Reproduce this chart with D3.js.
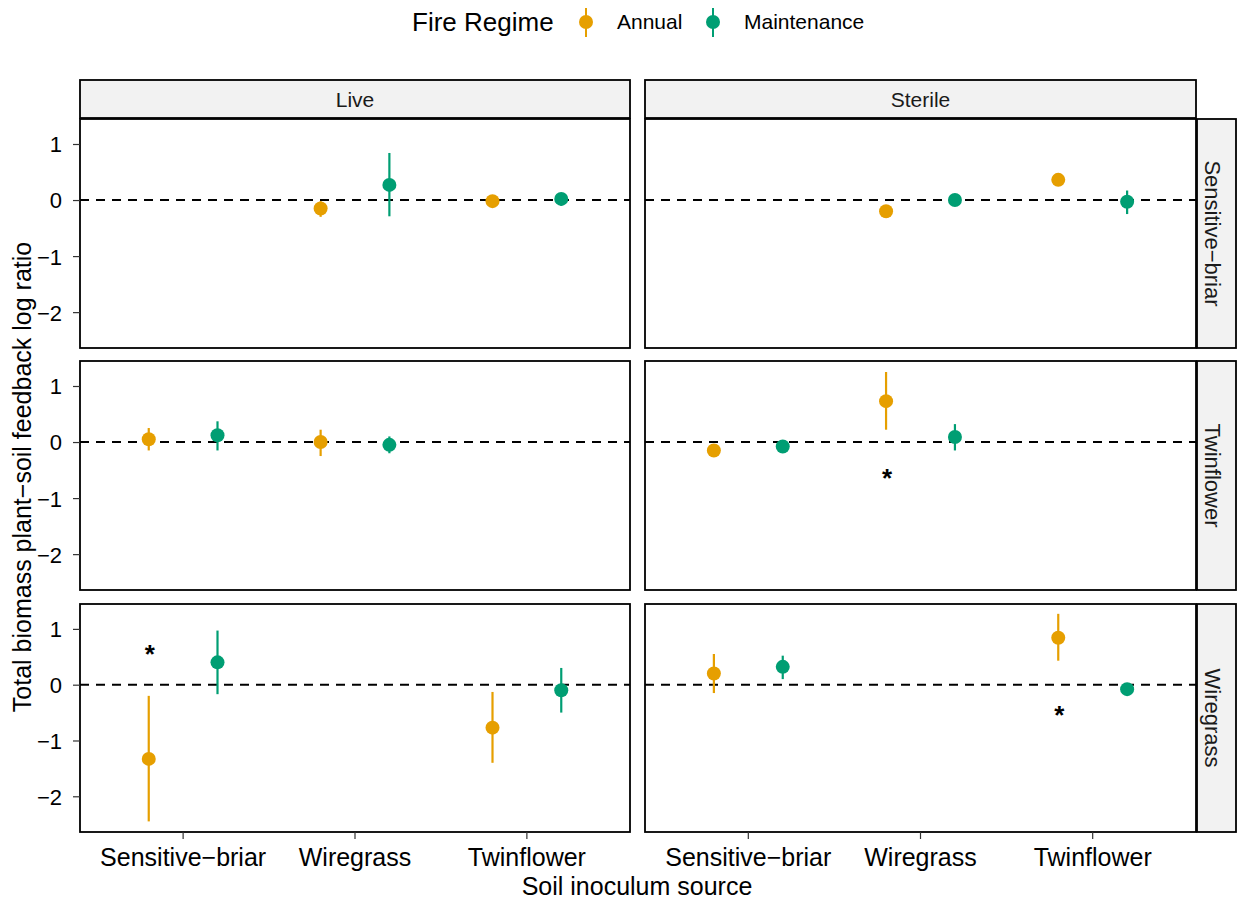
<!DOCTYPE html>
<html><head><meta charset="utf-8">
<script src="https://cdn.jsdelivr.net/npm/d3@7"></script>
<style>body{margin:0;background:#fff;} text{font-family:"Liberation Sans",Arial,Helvetica,sans-serif;}</style>
</head><body>
<script>
const soilTypes = ["Live","Sterile"];
const plants = ["Sensitive\u2212briar","Twinflower","Wiregrass"];
const sources = ["Sensitive\u2212briar","Wiregrass","Twinflower"];
const regimes = ["Annual","Maintenance"];
const colors = ["#E69F00","#009E73"];
const yTicks = [1,0,-1,-2];
const yTickLabels = ["1","0","\u22121","\u22122"];

// rows: [soil, plant, source, regime, mean, lo, hi]
const estimates = [
  ["Live","Sensitive\u2212briar","Wiregrass","Annual",-0.15,-0.3,-0.02],
  ["Live","Sensitive\u2212briar","Wiregrass","Maintenance",0.27,-0.29,0.84],
  ["Live","Sensitive\u2212briar","Twinflower","Annual",-0.02,-0.12,0.08],
  ["Live","Sensitive\u2212briar","Twinflower","Maintenance",0.02,-0.1,0.12],
  ["Sterile","Sensitive\u2212briar","Wiregrass","Annual",-0.2,-0.25,-0.15],
  ["Sterile","Sensitive\u2212briar","Wiregrass","Maintenance",0.0,-0.05,0.05],
  ["Sterile","Sensitive\u2212briar","Twinflower","Annual",0.36,0.25,0.47],
  ["Sterile","Sensitive\u2212briar","Twinflower","Maintenance",-0.03,-0.25,0.17],
  ["Live","Twinflower","Sensitive\u2212briar","Annual",0.05,-0.15,0.25],
  ["Live","Twinflower","Sensitive\u2212briar","Maintenance",0.12,-0.15,0.37],
  ["Live","Twinflower","Wiregrass","Annual",0.0,-0.25,0.22],
  ["Live","Twinflower","Wiregrass","Maintenance",-0.05,-0.2,0.1],
  ["Sterile","Twinflower","Sensitive\u2212briar","Annual",-0.15,-0.2,-0.1],
  ["Sterile","Twinflower","Sensitive\u2212briar","Maintenance",-0.08,-0.15,-0.02],
  ["Sterile","Twinflower","Wiregrass","Annual",0.73,0.22,1.25],
  ["Sterile","Twinflower","Wiregrass","Maintenance",0.09,-0.15,0.32],
  ["Live","Wiregrass","Sensitive\u2212briar","Annual",-1.33,-2.45,-0.2],
  ["Live","Wiregrass","Sensitive\u2212briar","Maintenance",0.4,-0.17,0.97],
  ["Live","Wiregrass","Twinflower","Annual",-0.77,-1.4,-0.13],
  ["Live","Wiregrass","Twinflower","Maintenance",-0.1,-0.5,0.3],
  ["Sterile","Wiregrass","Sensitive\u2212briar","Annual",0.2,-0.15,0.55],
  ["Sterile","Wiregrass","Sensitive\u2212briar","Maintenance",0.32,0.1,0.52],
  ["Sterile","Wiregrass","Twinflower","Annual",0.84,0.43,1.27],
  ["Sterile","Wiregrass","Twinflower","Maintenance",-0.08,-0.13,-0.03]
];
// significance markers: [soil, plant, source, y]
const stars = [
  ["Sterile","Twinflower","Wiregrass",-0.57],
  ["Live","Wiregrass","Sensitive\u2212briar",0.62],
  ["Sterile","Wiregrass","Twinflower",-0.48]
];

const W = 1238, H = 902;
const svg = d3.select("body").append("svg").attr("width",W).attr("height",H);

const panelX = {Live:[80,630], Sterile:[645,1196]};
const rowY = [[119,348],[361,590],[604,832]];
const stripTop = 80, stripRight = 1236;
const yDomain = [-2.64, 1.446];

plants.forEach((plant, ri) => {
  const [y0,y1] = rowY[ri];
  const y = d3.scaleLinear().domain(yDomain).range([y1,y0]);
  soilTypes.forEach((soil, ci) => {
    const [x0,x1] = panelX[soil];
    const xl = d3.scaleLinear().domain([0.4,3.6]).range([x0,x1]);
    const xpos = s => xl(sources.indexOf(s)+1);
    const dodge = r => (regimes.indexOf(r)===0 ? -0.2 : 0.2);
    const g = svg.append("g");
    g.append("rect").attr("x",x0).attr("y",y0).attr("width",x1-x0).attr("height",y1-y0).attr("fill","#fff");
    g.append("line").attr("x1",x0).attr("x2",x1).attr("y1",y(0)).attr("y2",y(0))
      .attr("stroke","#000").attr("stroke-width",2).attr("stroke-dasharray","9,7");
    estimates.filter(d=>d[0]===soil && d[1]===plant).forEach(d=>{
      const cx = xl(sources.indexOf(d[2])+1+dodge(d[3]));
      const col = colors[regimes.indexOf(d[3])];
      g.append("line").attr("x1",cx).attr("x2",cx).attr("y1",y(d[5])).attr("y2",y(d[6]))
        .attr("stroke",col).attr("stroke-width",2.2);
      g.append("circle").attr("cx",cx).attr("cy",y(d[4])).attr("r",7).attr("fill",col);
    });
    stars.filter(d=>d[0]===soil && d[1]===plant).forEach(d=>{
      const cx = xl(sources.indexOf(d[2])+1-0.2);
      g.append("text").attr("x",cx+1).attr("y",y(d[3])+13).attr("text-anchor","middle")
        .attr("font-size",26).attr("font-weight","bold").text("*");
    });
    g.append("rect").attr("x",x0).attr("y",y0).attr("width",x1-x0).attr("height",y1-y0)
      .attr("fill","none").attr("stroke","#000").attr("stroke-width",1.8);
    if (ci===0) {
      const ax = g.append("g").attr("transform",`translate(${x0},0)`)
        .call(d3.axisLeft(y).tickValues(yTicks).tickSize(7).tickPadding(11).tickFormat((v,i)=>yTickLabels[i]));
      ax.select(".domain").remove();
      ax.selectAll("line").attr("stroke","#333").attr("stroke-width",1.2);
      ax.selectAll("text").attr("font-size",22).attr("fill","#000").attr("dy","0.36em").style("font-family","'Liberation Sans',Arial,sans-serif");
    }
    if (ri===2) {
      const ax = g.append("g").attr("transform",`translate(0,${y1})`);
      sources.forEach(s=>{
        ax.append("line").attr("x1",xpos(s)).attr("x2",xpos(s)).attr("y1",0).attr("y2",7).attr("stroke","#333").attr("stroke-width",1.2);
        ax.append("text").attr("x",xpos(s)).attr("y",34).attr("text-anchor","middle").attr("font-size",25).text(s);
      });
    }
    if (ri===0) {
      g.append("rect").attr("x",x0).attr("y",stripTop).attr("width",x1-x0).attr("height",y0-stripTop-1)
        .attr("fill","#f2f2f2").attr("stroke","#000").attr("stroke-width",1.8);
      g.append("text").attr("x",(x0+x1)/2).attr("y",(stripTop+y0)/2+7).attr("text-anchor","middle")
        .attr("font-size",21).attr("fill","#1a1a1a").text(soil);
    }
    if (ci===1) {
      g.append("rect").attr("x",x1+1).attr("y",y0).attr("width",stripRight-x1-1).attr("height",y1-y0)
        .attr("fill","#f2f2f2").attr("stroke","#000").attr("stroke-width",1.8);
      const ty=(y0+y1)/2;
      g.append("text").attr("transform",`translate(1205,${ty}) rotate(90)`).attr("text-anchor","middle")
        .attr("font-size",22).attr("fill","#1a1a1a").text(plant);
    }
  });
});

svg.append("text").attr("x",637).attr("y",895).attr("text-anchor","middle").attr("font-size",25).text("Soil inoculum source");
svg.append("text").attr("transform","translate(31,477) rotate(-90)").attr("text-anchor","middle").attr("font-size",25)
  .text("Total biomass plant\u2212soil feedback log ratio");

const leg = svg.append("g");
leg.append("text").attr("x",412).attr("y",31).attr("font-size",26).text("Fire Regime");
const legX = [586,713];
regimes.forEach((r,i)=>{
  leg.append("line").attr("x1",legX[i]).attr("x2",legX[i]).attr("y1",8).attr("y2",37).attr("stroke",colors[i]).attr("stroke-width",2);
  leg.append("circle").attr("cx",legX[i]).attr("cy",22).attr("r",7).attr("fill",colors[i]);
  leg.append("text").attr("x",legX[i]+31).attr("y",29).attr("font-size",21).text(r);
});
</script>
</body></html>
